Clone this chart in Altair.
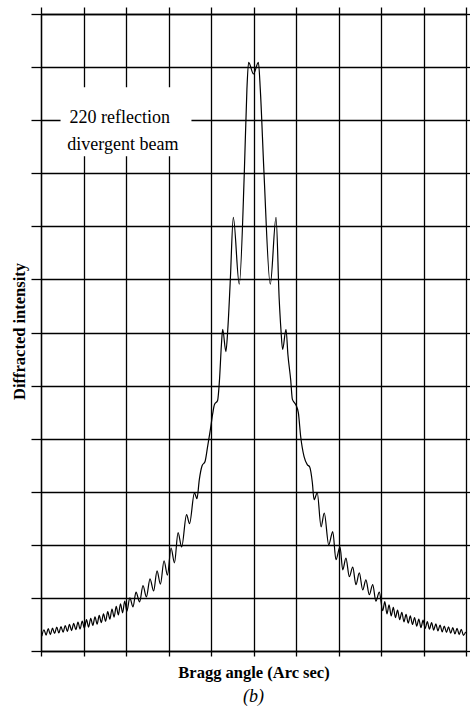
import altair as alt
import pandas as pd

FONT = "Liberation Serif"

# ---- curve values (angle in grid units, intensity in grid units) ----
angle_left = [-49.8, -49.3, -48.8, -48.3, -47.8, -47.3, -46.8, -46.3, -45.8, -45.3,
              -44.8, -44.3, -43.8, -43.3, -42.8, -42.3, -41.8, -41.3, -40.8, -40.3,
              -39.8, -39.3, -38.8, -38.3, -37.8, -37.3, -36.8, -36.3, -35.8, -35.3,
              -34.8, -34.3, -33.8, -33.3, -32.8, -32.3, -31.8, -31.3, -30.8, -30.3,
              -29.8, -29.1, -28.35, -27.65, -26.8, -26.0, -25.2, -24.35, -23.5, -22.7,
              -21.9, -21.05, -20.25, -19.4, -18.6, -17.75, -16.9, -15.75, -15.05, -13.9,
              -13.3]
intensity_left = [2.8, 4.0, 3.0, 4.2, 3.1, 4.3, 3.3, 4.5, 3.4, 4.6,
                  3.55, 4.8, 3.7, 5.0, 3.85, 5.2, 4.0, 5.45, 4.15, 5.65,
                  4.3, 5.9, 4.5, 6.15, 4.8, 6.45, 5.05, 6.7, 5.35, 7.0,
                  5.6, 7.4, 6.0, 7.9, 6.4, 8.4, 6.8, 8.9, 7.2, 9.4,
                  7.5, 10.0, 8.3, 11.1, 9.25, 12.3, 10.2, 13.6, 11.3, 15.1,
                  12.6, 17.0, 14.3, 19.4, 16.6, 22.3, 19.6, 25.7, 24.0, 29.8,
                  28.7]

angle_center = [-12.75, -12.1, -11.4, -10.8, -10.15, -9.6, -9.2, -8.45, -8.0, -7.55,
                -7.25, -6.5, -6.05, -5.45, -4.75, -3.35, -2.15, -1.55, -1.15, 0.0,
                1.15, 1.6, 2.45, 3.95, 5.3, 6.05, 6.45, 6.85, 7.65, 8.1,
                8.75, 9.15, 9.95, 10.55, 11.1, 11.9, 12.65, 13.2, 13.85, 14.25,
                15.0]
intensity_center = [32.3, 34.9, 35.7, 38.5, 41.7, 44.7, 46.4, 47.2, 51.1, 57.7,
                    60.6, 56.4, 60.6, 70.0, 81.7, 69.1, 90.4, 105.8, 110.9, 108.7,
                    110.9, 105.8, 90.4, 69.1, 81.7, 66.2, 60.6, 56.8, 60.6, 55.8,
                    51.1, 47.4, 46.4, 44.9, 40.4, 36.6, 35.1, 34.7, 31.7, 28.5,
                    29.8]

angle_right = [15.9, 16.65, 17.7, 18.65, 19.4, 20.35, 21.0, 21.75, 22.55, 23.35,
               24.1, 24.9, 25.7, 26.45, 27.25, 28.05, 28.8, 29.6, 30.4, 30.9,
               31.4, 31.9, 32.4, 32.9, 33.4, 33.9, 34.4, 34.9, 35.4, 35.9,
               36.4, 36.9, 37.4, 37.9, 38.4, 38.9, 39.4, 39.9, 40.4, 40.9,
               41.4, 41.9, 42.4, 42.9, 43.4, 43.9, 44.4, 44.9, 45.4, 45.9,
               46.4, 46.9, 47.4, 47.9, 48.4, 48.9, 49.4, 49.9]
intensity_right = [23.4, 26.0, 20.0, 22.5, 17.2, 19.6, 15.3, 17.5, 14.0, 15.8,
                   12.5, 14.7, 11.5, 13.4, 10.6, 12.5, 9.4, 11.1, 7.6, 9.3,
                   7.0, 8.7, 6.6, 8.2, 6.3, 7.7, 5.9, 7.3, 5.5, 6.9,
                   5.25, 6.6, 5.0, 6.3, 4.7, 6.0, 4.4, 5.8, 4.25, 5.55,
                   4.1, 5.35, 3.95, 5.1, 3.8, 4.9, 3.6, 4.7, 3.5, 4.55,
                   3.35, 4.4, 3.2, 4.25, 3.1, 4.1, 2.95, 3.6]

x_grid = [-50, -40, -30, -20, -10, 0, 10, 20, 30, 40, 50]
y_grid = [0, 10, 20, 30, 40, 50, 60, 70, 80, 90, 100, 110, 120]

note_lines = ["220 reflection", "divergent beam"]
note_angle = [-43.3, -43.8]
note_intensity = [100.4, 95.3]

# white backing behind the note (data coordinates)
box_angle = [-45.4, -14.6]
box_intensity = [93.2, 106.2]

curve = pd.DataFrame({
    "angle": angle_left + angle_center + angle_right,
    "intensity": intensity_left + intensity_center + intensity_right,
})
notes = pd.DataFrame({"angle": note_angle, "intensity": note_intensity, "label": note_lines})
box = pd.DataFrame({"a1": [box_angle[0]], "a2": [box_angle[1]],
                    "i1": [box_intensity[0]], "i2": [box_intensity[1]]})

xs = alt.Scale(domain=[-50, 50], nice=False, zero=False)
ys = alt.Scale(domain=[0, 120], nice=False, zero=False)

line_w = 1.3

x_axis = alt.Axis(values=x_grid, labels=False, ticks=True, tickSize=5, tickColor="black",
                  tickWidth=line_w, domain=True, domainColor="black", domainWidth=line_w,
                  grid=True, gridColor="black", gridWidth=line_w, gridOpacity=1,
                  title="Bragg angle (Arc sec)", titleFont=FONT, titleFontSize=16.5,
                  titleFontWeight="bold", titleColor="black", titleY=26,
                  titleBaseline="alphabetic")
y_axis = alt.Axis(values=y_grid, labels=False, ticks=True, tickSize=10, tickColor="black",
                  tickWidth=line_w, domain=True, domainColor="black", domainWidth=line_w,
                  grid=True, gridColor="black", gridWidth=line_w, gridOpacity=1,
                  title="Diffracted intensity", titleFont=FONT, titleFontSize=16.5,
                  titleFontWeight="bold", titleColor="black", titleAngle=270,
                  titleX=-22, titleY=317, titleAlign="center", titleBaseline="middle")

back = alt.Chart(box).mark_rect(color="white").encode(
    x=alt.X("a1:Q", scale=xs, axis=x_axis),
    x2="a2:Q",
    y=alt.Y("i1:Q", scale=ys, axis=y_axis),
    y2="i2:Q",
)

line = alt.Chart(curve).mark_line(color="black", strokeWidth=1.2, interpolate="monotone").encode(
    x=alt.X("angle:Q", scale=xs),
    y=alt.Y("intensity:Q", scale=ys),
)

text = alt.Chart(notes).mark_text(align="left", baseline="middle", font=FONT, fontSize=18,
                                  color="black").encode(
    x=alt.X("angle:Q", scale=xs),
    y=alt.Y("intensity:Q", scale=ys),
    text="label:N",
)

main = alt.layer(back, line, text)

frame = alt.Chart(curve).mark_line(opacity=0).encode(
    x=alt.X("angle:Q", scale=xs,
            axis=alt.Axis(orient="top", values=x_grid, labels=False, tickSize=7,
                          tickColor="black", tickWidth=line_w, domain=True,
                          domainColor="black", domainWidth=line_w, grid=False, title=None)),
    y=alt.Y("intensity:Q", scale=ys,
            axis=alt.Axis(orient="right", values=y_grid, labels=False, tickSize=5,
                          tickColor="black", tickWidth=line_w, domain=False,
                          grid=False, title=None)),
)

chart = alt.layer(main, frame).resolve_scale(x="independent", y="independent").properties(
    width=425,
    height=637,
    padding={"left": 41, "top": 14, "right": 4, "bottom": 55},
    autosize=alt.AutoSizeParams(type="none"),
    title=alt.TitleParams("(b)", orient="bottom", font=FONT, fontSize=18,
                          fontStyle="italic", fontWeight="normal", color="black",
                          offset=7),
).configure_view(stroke=None).configure(background="white")

chart.save("out.html", embed_options={"renderer": "svg", "actions": False})
